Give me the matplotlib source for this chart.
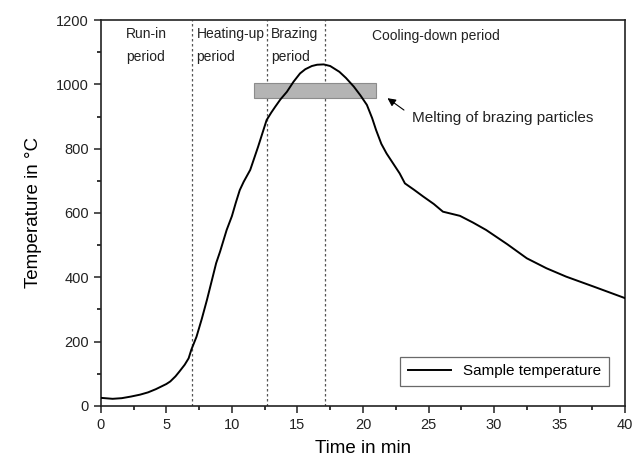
"""Sample temperature during the brazing cycle."""

import matplotlib

matplotlib.use("Agg")
import matplotlib.pyplot as plt
from matplotlib.patches import Rectangle
from matplotlib.ticker import MultipleLocator

plt.rcParams["font.family"] = ["Liberation Sans", "DejaVu Sans"]

# Curve (time in min, temperature in degC)
time_min = [0, 0.9, 1.6, 2.3, 3.0, 3.6, 4.2, 4.6, 5.0, 5.3, 5.7, 6.0, 6.4,
            6.7, 6.9, 7.3, 7.7, 8.1, 8.5, 8.8, 9.1, 9.6, 10.0, 10.3, 10.6,
            10.9, 11.4, 12.0, 12.65, 13.0, 13.3, 13.7, 14.2, 14.7, 15.2,
            15.6, 16.1, 16.5, 17.0, 17.5, 18.2, 18.7, 19.3, 19.8, 20.3,
            20.7, 21.0, 21.4, 21.8, 22.3, 22.8, 23.2, 23.9, 24.6, 25.4,
            26.1, 26.8, 27.4, 28.4, 29.4, 31.0, 32.5, 34.0, 35.5, 37.6, 40.0]
temperature = [25, 22, 24, 29, 35, 42, 52, 60, 68, 76, 92, 107, 128,
               148, 174, 215, 270, 330, 395, 444, 480, 547, 590, 632, 671,
               697, 734, 806, 889, 912, 930, 953, 977, 1008, 1034,
               1047, 1057, 1061, 1062, 1057, 1039, 1020, 993, 966, 936,
               895, 858, 815, 785, 754, 723, 692, 672, 651, 628,
               604, 597, 591, 570, 547, 503, 459, 428, 402, 371, 335]

# Period boundaries (dotted lines)
boundaries = [6.95, 12.65, 17.1]

# Period labels: (text, x, y)
period_labels = [
    ("Run-in", 1.9, 1158),
    ("period", 1.9, 1085),
    ("Heating-up", 7.3, 1158),
    ("period", 7.3, 1085),
    ("Brazing", 13.0, 1158),
    ("period", 13.0, 1085),
    ("Cooling-down period", 20.7, 1150),
]

# Melting range of the brazing particles
melt_x = (11.7, 21.0)
melt_y = (958, 1003)

fig = plt.figure(figsize=(6.34, 4.66), dpi=100)
ax = fig.add_axes([0.159, 0.129, 0.827, 0.828])

for xb in boundaries:
    ax.axvline(xb, color="#555555", linestyle=(0, (2, 2)), linewidth=0.9, zorder=1)

ax.add_patch(Rectangle((melt_x[0], melt_y[0]), melt_x[1] - melt_x[0],
                       melt_y[1] - melt_y[0], facecolor="#b4b4b4",
                       edgecolor="#8c8c8c", linewidth=0.8, zorder=2))

ax.plot(time_min, temperature, color="black", linewidth=1.4,
        solid_joinstyle="round", label="Sample temperature", zorder=3)

for text, x, y in period_labels:
    ax.text(x, y, text, fontsize=10, va="center", ha="left", color="#222222")

ax.annotate("", xy=(21.7, 962), xytext=(23.3, 915),
            arrowprops=dict(arrowstyle="-|>", color="black", lw=0.8,
                            mutation_scale=12))
ax.text(23.75, 895, "Melting of brazing particles", fontsize=11,
        va="center", ha="left", color="#222222")

ax.set_xlim(0, 40)
ax.set_ylim(0, 1200)
ax.xaxis.set_major_locator(MultipleLocator(5))
ax.xaxis.set_minor_locator(MultipleLocator(2.5))
ax.yaxis.set_major_locator(MultipleLocator(200))
ax.yaxis.set_minor_locator(MultipleLocator(100))
ax.tick_params(which="major", direction="out", length=5, width=1.1,
               labelsize=10.5, colors="#222222")
ax.tick_params(which="minor", direction="out", length=3, width=1.1)
for spine in ax.spines.values():
    spine.set_linewidth(1.2)
    spine.set_color("#222222")

ax.set_xlabel("Time in min", fontsize=13.5, labelpad=6)
ax.set_ylabel("Temperature in \u00b0C", fontsize=13.5, labelpad=10)

leg = ax.legend(loc="lower right", bbox_to_anchor=(0.969, 0.052),
                borderaxespad=0, fancybox=False, fontsize=11,
                handlelength=2.8, borderpad=0.5)
leg.get_frame().set_edgecolor("#444444")
leg.get_frame().set_linewidth(0.9)

fig.savefig("out.png", dpi=100)
